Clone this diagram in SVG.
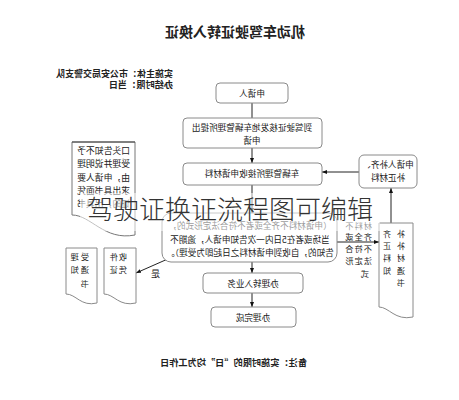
<svg xmlns="http://www.w3.org/2000/svg" width="459" height="400" viewBox="0 0 459 400">
<style>
text{font-family:"Noto Sans CJK SC","Liberation Sans",sans-serif;fill:#222}
.box{fill:#fff;stroke:#8a8a8a;stroke-width:1}
.doc{fill:#fff;stroke:#8a8a8a;stroke-width:1}
.ln{stroke:#222;stroke-width:1;fill:none}
.t{font-size:8.6px;text-anchor:middle}
.s{font-size:8.2px}
.b{font-weight:bold}
</style>
<defs>
<marker id="ah" viewBox="0 0 10 10" refX="10" refY="5" markerWidth="5" markerHeight="5" orient="auto"><path d="M0,1 L10,5 L0,9z" fill="#111"/></marker>
</defs>
<rect width="459" height="400" fill="#fff"/>
<g transform="matrix(-1 0 0 1 459 0)">
<g id="title"><text x="224" y="37" font-size="14" text-anchor="middle" class="b">机动车驾驶证转入换证</text></g>
<g id="meta">
<text x="286" y="77" font-size="9" class="b">实施主体：市公安局交警支队</text>
<text x="286" y="88" font-size="9.2" class="b">办结时限：当日</text>
</g>
<g id="connectors">
<line class="ln" x1="207" y1="103" x2="207" y2="118"/>
<line class="ln" x1="207" y1="148" x2="207" y2="163" marker-end="url(#ah)"/>
<line class="ln" x1="100" y1="172" x2="137" y2="172" marker-end="url(#ah)"/>
<line class="ln" x1="68" y1="223" x2="68" y2="188" marker-end="url(#ah)"/>
<line class="ln" x1="207" y1="185" x2="207" y2="213" marker-end="url(#ah)"/>
<line class="ln" x1="289" y1="258" x2="323" y2="273" marker-end="url(#ah)"/>
<line class="ln" x1="122" y1="242" x2="80" y2="242" marker-end="url(#ah)"/>
<line class="ln" x1="207" y1="262" x2="207" y2="273" marker-end="url(#ah)"/>
<line class="ln" x1="207" y1="293" x2="207" y2="307" marker-end="url(#ah)"/>
</g>
<g id="n-applicant"><rect class="box" x="171" y="83" width="72" height="20" rx="4"/><text class="t" x="207" y="97">申请人</text></g>
<g id="n-submit"><rect class="box" x="137" y="118" width="139" height="30" rx="4"/><text class="t" x="207" y="131">到驾驶证核发地车辆管理所提出</text><text class="t" x="207" y="144">申请</text></g>
<g id="n-receive"><rect class="box" x="137" y="163" width="139" height="22" rx="4"/><text class="t" x="207" y="177">车辆管理所接收申请材料</text></g>
<g id="n-supplement"><rect class="box" x="42" y="155" width="58" height="33" rx="5"/><text class="t" x="71" y="168" font-size="8.3">申请人补齐、</text><text class="t" x="71" y="181" font-size="8.3">补正材料</text></g>
<g id="n-reject-doc"><path class="doc" d="M324,142 H387 V215 C368,215 355,241 324,235 Z" style="stroke:#777"/><line x1="324" y1="142" x2="387" y2="142" stroke="#444"/>
<text x="329" y="154" font-size="8.8">口头告知不予</text>
<text x="329" y="167" font-size="8.8">受理并说明理</text>
<text x="329" y="181" font-size="8.8">由，申请人要</text>
<text x="329" y="194" font-size="8.8">求出具书面凭</text>
<text x="329" y="207" font-size="8.8">证的，出具书</text>
</g>
<g id="n-check"><rect class="box" x="122" y="213" width="175" height="49" rx="9"/>
<text class="t" x="209" y="229" font-size="8">（申请材料不齐全或者不符合法定形式的，</text>
<text class="t" x="209" y="243" font-size="8">当场或者在5日内一次告知申请人，逾期不</text>
<text class="t" x="209" y="256" font-size="8">告知的，自收到申请材料之日起即为受理）。</text>
</g>
<g id="l-yes"><text x="299" y="277" font-size="9">是</text></g>
<g id="n-receipt"><path class="doc" d="M323,248 H355 V294 C345,294 340,307 323,303 Z"/><text x="332" y="260" class="s" letter-spacing="1">收件</text><text x="332" y="273" class="s" letter-spacing="1">凭证</text></g>
<g id="n-accept"><path class="doc" d="M362,248 H393 V294 C383,294 378,307 362,303 Z"/><text x="370" y="260" class="s" letter-spacing="2">受理</text><text x="370" y="273" class="s" letter-spacing="2">通知</text><text x="370" y="287" class="s">书</text></g>
<g id="l-incomplete">
<text x="87" y="229" class="s" letter-spacing="1">材料不</text>
<text x="87" y="240" class="s" letter-spacing="1">齐全或</text>
<text x="87" y="252" class="s" letter-spacing="1">不符合</text>
<text x="87" y="264" class="s" letter-spacing="1">法定形</text>
<text x="90" y="277" class="s">式</text>
</g>
<g id="n-notice"><path class="doc" d="M46,223 H80 V307 C70,307 64,321 46,317 Z"/>
<text x="54" y="237" font-size="8" letter-spacing="6">补齐</text>
<text x="54" y="249" font-size="8" letter-spacing="6">补正</text>
<text x="54" y="261" font-size="8" letter-spacing="6">材料</text>
<text x="54" y="274" font-size="8" letter-spacing="6">通知</text>
<text x="54" y="286" font-size="8">书</text>
</g>
<g id="n-process"><rect class="box" x="156" y="273" width="100" height="20" rx="4"/><text class="t" x="206" y="287">办理转入业务</text></g>
<g id="n-done"><rect class="box" x="163" y="307" width="85" height="20" rx="4"/><text class="t" x="206" y="321">办理完成</text></g>
<g id="footer"><text x="152" y="366" font-size="9.2" class="b">备注：实施时限的“日”均为工作日</text></g>
</g>
<rect x="80" y="193" width="300" height="38" fill="#fff" opacity="0.55"/>
<text x="87" y="219" font-size="26" font-weight="300" style="fill:#333">驾驶证换证流程图可编辑</text>
</svg>
